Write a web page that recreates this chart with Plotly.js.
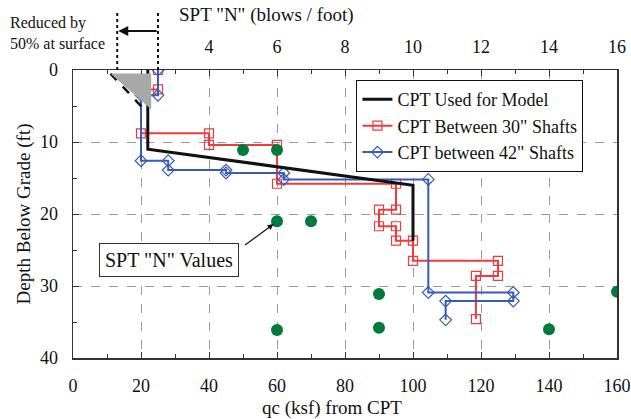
<!DOCTYPE html>
<html>
<head>
<meta charset="utf-8">
<script src="https://cdn.plot.ly/plotly-3.0.1.min.js"></script>
<style>html,body{margin:0;padding:0;background:#fff;}#chart{width:631px;height:419px;}</style>
</head>
<body>
<div id="chart"></div>
<script>
// CPT used for model
var modelQc    = [22, 22, 100, 100];
var modelDepth = [0, 11, 16, 23.7];
// CPT between 30" shafts
var s30Qc    = [25, 25, 20, 20, 40, 40, 60, 60, 95, 95, 90, 90, 95, 95, 100, 100, 125, 125, 118.5, 118.5];
var s30Depth = [0, 2.7, 2.7, 8.8, 8.8, 10.4, 10.4, 15.8, 15.8, 19.4, 19.4, 21.7, 21.7, 23.7, 23.7, 26.5, 26.5, 28.6, 28.6, 34.6];
// CPT between 42" shafts
var s42Qc    = [25, 25, 20, 20, 28, 28, 45, 45, 62, 62, 104.5, 104.5, 129.5, 129.5, 109.6, 109.6];
var s42Depth = [0, 3.5, 3.5, 12.6, 12.6, 13.9, 13.9, 14.3, 14.3, 15.2, 15.2, 30.9, 30.9, 32.1, 32.1, 34.7];
// SPT N values (blows/foot)
var sptN     = [5, 6, 6, 7, 6, 9, 9, 14, 16];
var sptDepth = [11.1, 11.1, 21, 21, 36.1, 31.1, 35.8, 36, 30.8];
// Surface reduction sketch (50% at surface)
var reducedQc    = [11, 22];
var reducedDepth = [0.5, 6];
var wedgeQc    = [11, 23, 23, 11];
var wedgeDepth = [0.5, 0.5, 5.5, 0.5];
// tick labels
var qcTicks  = [0, 20, 40, 60, 80, 100, 120, 140, 160];
var nTicks   = [4, 6, 8, 10, 12, 14, 16];
var depthTicks = [0, 10, 20, 30, 40];

var serif = 'Liberation Serif, Times New Roman, serif';
var red = '#EE3B3B', blue = '#3A5BB5', green = '#007A3D';

var traces = [
  {x: s30Qc, y: s30Depth, mode: 'lines+markers', name: 'CPT Between 30" Shafts', legendrank: 2,
   line: {color: red, width: 2}, marker: {symbol: 'square-open', size: 9, color: red, line: {width: 1.2}}},
  {x: s42Qc, y: s42Depth, mode: 'lines+markers', name: 'CPT between 42" Shafts', legendrank: 3,
   line: {color: blue, width: 2}, marker: {symbol: 'diamond-open', size: 9, color: blue, line: {width: 1.2}}},
  {x: modelQc, y: modelDepth, mode: 'lines', name: 'CPT Used for Model', legendrank: 1,
   line: {color: '#111', width: 3}},
  {x: reducedQc, y: reducedDepth, mode: 'lines', showlegend: false, hoverinfo: 'skip',
   line: {color: '#111', width: 2.5, dash: 'dash'}},
  {x: wedgeQc, y: wedgeDepth, mode: 'lines', fill: 'toself', fillcolor: '#A8A8A8', showlegend: false,
   hoverinfo: 'skip', line: {width: 0, color: '#A8A8A8'}},
  {x: sptN, y: sptDepth, xaxis: 'x2', mode: 'markers', name: 'SPT "N" Values', showlegend: false,
   marker: {symbol: 'circle', size: 12, color: green}}
];

var layout = {
  width: 631, height: 419,
  margin: {l: 73, r: 14, t: 70, b: 61},
  paper_bgcolor: '#fff', plot_bgcolor: '#fff',
  font: {family: serif, size: 18, color: '#111'},
  showlegend: true,
  legend: {x: 0.521, y: 0.965, xanchor: 'left', yanchor: 'top', bgcolor: '#fff',
           bordercolor: '#111', borderwidth: 1, font: {family: serif, size: 18, color: '#111'},
           itemwidth: 30, tracegroupgap: 0, entrywidth: 212, entrywidthmode: 'pixels'},
  xaxis: {range: [0, 160], tickvals: qcTicks, ticks: 'inside', ticklen: 6, tickcolor: '#333',
          showline: true, linecolor: '#333', linewidth: 1.5, zeroline: false,
          showgrid: true, gridcolor: '#9a9a9a', griddash: 'dash', gridwidth: 1,
          minor: {dtick: 10, ticks: 'inside', ticklen: 4, tickcolor: '#333', showgrid: false},
          ticklabelstandoff: 11, tickfont: {size: 18}},
  xaxis2: {range: [0, 16], overlaying: 'x', side: 'top', tickvals: nTicks, ticks: 'inside', ticklen: 6,
           tickcolor: '#333', showline: true, linecolor: '#333', linewidth: 1.5, zeroline: false,
           showgrid: false, minor: {dtick: 1, ticks: 'inside', ticklen: 4, tickcolor: '#333'},
           ticklabelstandoff: 8, tickfont: {size: 18}},
  yaxis: {range: [40, 0], tickvals: depthTicks, ticks: 'inside', ticklen: 6, tickcolor: '#333',
          showline: true, mirror: true, linecolor: '#333', linewidth: 1.5, zeroline: false,
          showgrid: true, gridcolor: '#9a9a9a', griddash: 'dash', gridwidth: 1,
          minor: {dtick: 5, ticks: 'inside', ticklen: 4, tickcolor: '#333', showgrid: false},
          ticklabelstandoff: 10, tickfont: {size: 18},
          title: {text: 'Depth Below Grade (ft)', font: {size: 19}, standoff: 4}},
  shapes: [
    {type: 'line', xref: 'x', yref: 'paper', x0: 13, x1: 13, y0: 1.0, y1: 1.208,
     line: {color: '#111', width: 2, dash: 'dot'}},
    {type: 'line', xref: 'x', yref: 'paper', x0: 25, x1: 25, y0: 1.0, y1: 1.208,
     line: {color: '#111', width: 2, dash: 'dot'}}
  ],
  annotations: [
    {text: 'SPT "N" (blows / foot)', xref: 'paper', yref: 'paper', x: 0.355, y: 1.19,
     xanchor: 'center', yanchor: 'middle', showarrow: false, font: {size: 19}},
    {text: 'qc (ksf) from CPT', xref: 'paper', yref: 'paper', x: 0.476, y: -0.175,
     xanchor: 'center', yanchor: 'middle', showarrow: false, font: {size: 19}},
    {text: 'Reduced by<br>50% at surface', xref: 'paper', yref: 'paper', x: -0.12, y: 1.2,
     xanchor: 'left', yanchor: 'top', align: 'left', showarrow: false, font: {size: 16}},
    {text: '', xref: 'x', yref: 'paper', x: 13.3, y: 1.135, ax: 40, ay: 0,
     showarrow: true, arrowhead: 2, arrowsize: 1, arrowwidth: 2, arrowcolor: '#111'},
    {text: '', xref: 'x', yref: 'y', x: 59, y: 21.4, ax: -30, ay: 22,
     showarrow: true, arrowhead: 2, arrowsize: 1, arrowwidth: 1.2, arrowcolor: '#111'},
    {text: 'SPT "N" Values', xref: 'x', yref: 'y', x: 28.2, y: 26.4, xanchor: 'center', yanchor: 'middle',
     showarrow: false, bgcolor: '#fff', bordercolor: '#333', borderwidth: 1, borderpad: 5,
     font: {size: 20}}
  ]
};

Plotly.newPlot('chart', traces, layout, {displayModeBar: false, staticPlot: true});
</script>
</body>
</html>
